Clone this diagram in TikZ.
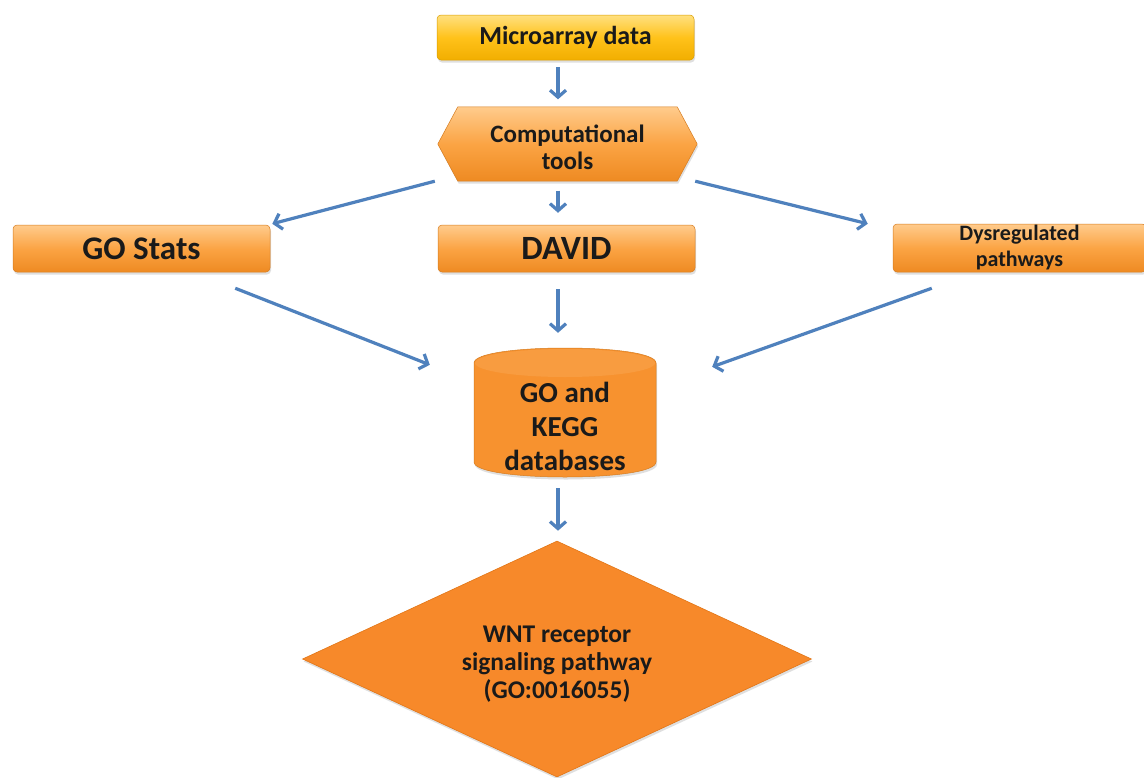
\documentclass[tikz,border=0pt]{standalone}
\usepackage{fontspec}
\setmainfont{Carlito}
\usetikzlibrary{arrows.meta,shapes.geometric,shadows,backgrounds,calc}
\definecolor{arrowblue}{HTML}{4F81BD}
\definecolor{txtc}{HTML}{1A1A1A}
\definecolor{goldtop}{HTML}{FFE080}
\definecolor{goldmid}{HTML}{FFC21A}
\definecolor{goldbot}{HTML}{F2AE00}
\definecolor{ortop}{HTML}{FFCB8C}
\definecolor{ormid}{HTML}{FBA444}
\definecolor{orbot}{HTML}{EE8A22}
\definecolor{dbbody}{HTML}{F7922F}
\definecolor{dbtop}{HTML}{F89C40}
\definecolor{diafill}{HTML}{F7892A}
\definecolor{diaedge}{HTML}{E27515}
\newcommand{\fsz}[2]{\bfseries\fontsize{#1}{#2}\selectfont}
\begin{document}
\begin{tikzpicture}[x=1pt,y=-1pt,
  arr/.style={draw=arrowblue, line width=3.2pt, -{Straight Barb[length=7pt,width=16pt]}},
  shd/.style={drop shadow={opacity=0.25, shadow xshift=1pt, shadow yshift=-2.5pt}},
  txt/.style={text=txtc, align=center, inner sep=0pt},
  goldbox/.style={txt, rectangle, rounded corners=4pt, top color=goldtop, bottom color=goldbot, middle color=goldmid, draw=goldbot!90!black, line width=0.5pt, shd},
  orbox/.style={txt, rectangle, rounded corners=4pt, top color=ortop, bottom color=orbot, middle color=ormid, draw=orbot!90!black, line width=0.5pt, shd},
  orshape/.style={top color=ortop, bottom color=orbot, middle color=ormid, draw=orbot!90!black, line width=0.5pt, shd}
]
\useasboundingbox (0,0) rectangle (1144,777);
\begin{pgfonlayer}{background}
\fill[white] (0,0) rectangle (1144,777);
\end{pgfonlayer}

% boxes
\node[goldbox, minimum width=257pt, minimum height=45pt, font=\fsz{26}{30}] (micro) at (565.5,37.5) {Microarray data};
\node[txt, minimum width=259pt, minimum height=74pt, font=\fsz{25}{27}] (comp) at (567.5,147.5) {Computational\\tools};
\begin{pgfonlayer}{background}
\path[orshape] ([yshift=3.5pt]comp.west) -- ([xshift=20pt,yshift=3.5pt]comp.north west) -- ([xshift=-20pt,yshift=3.5pt]comp.north east) -- ([yshift=3.5pt]comp.east) -- ([xshift=-20pt,yshift=3.5pt]comp.south east) -- ([xshift=20pt,yshift=3.5pt]comp.south west) -- cycle;
\end{pgfonlayer}

\node[orbox, minimum width=257pt, minimum height=47pt, font=\fsz{33}{36}] (gostats) at (141.5,248.5) {GO Stats};
\node[orbox, minimum width=257pt, minimum height=47pt, font=\fsz{34}{36}] (david) at (566.5,248.5) {DAVID};
\node[orbox, minimum width=253pt, minimum height=48pt, font=\fsz{22}{26}] (dys) at (1019.5,248) {Dysregulated\\pathways};

% database cylinder
\node[inner sep=0pt, minimum width=182pt, minimum height=129pt] (db) at (565,412.5) {};
\begin{pgfonlayer}{background}
\path[fill=dbbody, draw=orbot!90!black, line width=0.5pt, shd] (474,363) -- (474,462) .. controls (474,482) and (656,482) .. (656,462) -- (656,363) .. controls (656,343) and (474,343) .. (474,363) -- cycle;
\fill[dbtop] (565,363) ellipse [x radius=90, y radius=14];
\end{pgfonlayer}
\node[txt, font=\fsz{29}{34}] (dbtext) at (565,426) {GO and\\KEGG\\databases};

% diamond
\node[diamond, aspect=2.2, minimum width=509pt, minimum height=236pt, inner sep=0pt, fill=diafill, draw=diaedge, line width=0.6pt, shd] (dia) at (557,659) {};
\node[txt, font=\fsz{25.5}{28}] (diatext) at (557,664) {WNT receptor\\signaling pathway\\(GO:0016055)};

% connectors
\draw[arr] ($(micro.south)+(-7.5,7)$) -- ($(comp.north)+(-9.5,-11)$);
\draw[arr] ($(comp.south)+(-9.5,6)$) -- ($(david.north)+(-8.5,-12)$);
\draw[arr] ($(comp.south west)+(-3,-3.5)$) -- ($(gostats.north east)+(2,-1)$);
\draw[arr] ($(comp.south east)+(-2,-3.5)$) -- ($(dys.north west)+(-25,0)$);
\draw[arr] ($(david.south)+(-8.5,17)$) -- ($(db.north)+(-7,-15)$);
\draw[arr] ($(gostats.south east)+(-35,16)$) -- ($(db.north west)+(-44,17)$);
\draw[arr] ($(dys.south west)+(39,16)$) -- ($(db.north east)+(56,19)$);
\draw[arr] ($(db.south)+(-7,11)$) -- ($(dia.north)+(1,-10)$);
\end{tikzpicture}
\end{document}
